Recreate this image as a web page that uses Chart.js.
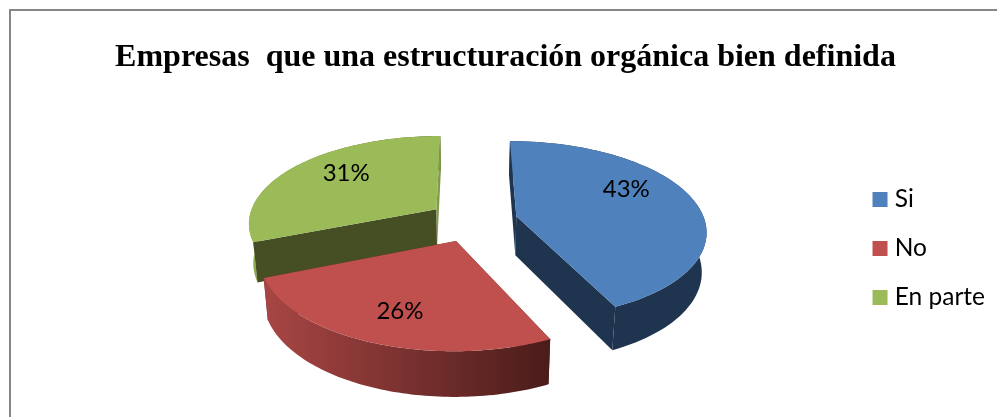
<!DOCTYPE html>
<html><head><meta charset="utf-8">
<script src="https://cdn.jsdelivr.net/npm/chart.js@4"></script>
<style>html,body{margin:0;padding:0;background:#fff;overflow:hidden}
#frame{position:absolute;left:9px;top:9px;width:1000px;height:420px;border:2px solid #868686;box-sizing:border-box;pointer-events:none}
canvas{position:absolute;left:0;top:0}</style>
</head><body>
<canvas id="c" width="997" height="417"></canvas>
<div id="frame"></div>
<script>
const titleText = 'Empresas  que una estructuración orgánica bien definida';
const categories = ['Si', 'No', 'En parte'];
const values = [43, 26, 31];
const colors = ['#4F81BD', '#C0504D', '#9BBB59'];

// 3D look of the slices
const edgeWall = [['#1F344F', '#1F344F'], ['#5a1f1e', '#5a1f1e'], ['#454F23', '#7F9A48']];
const rimWall = [['#1F344F', '#1F344F'], ['#A84644', '#4A1C1A'], ['#8FAD52', '#454F23']];
const edgeFacesViewer = [true, false, true];
const paintOrder = [2, 0, 1];
const labelPlace = [{r: .71, shift: -15}, {r: .72, shift: -1}, {r: .695, shift: 6}];

// perspective camera, fitted to the picture
const cam = {x0: 467, yh: -531, c: .2505, A: .00133, B: .0001565, u0: .0314, explode: .238, depth: .052, shrink: .98, q: .25, bow: 2.8};
function project(angle, rad, mid, z) {
  const U = cam.u0 + cam.explode * Math.cos(mid) + rad * Math.cos(angle);
  const V = cam.explode * Math.sin(mid) + rad * Math.sin(angle);
  const w = 1 / (cam.A - cam.B * V);
  const k = z ? cam.shrink : 1;
  return {
    x: cam.x0 + cam.c * U * w * k * Math.pow(w / 750, cam.q),
    y: cam.yh + w * (1 + (z ? cam.depth : 0)) + cam.bow * V * V
  };
}
function poly(ctx, pts, fill) {
  ctx.beginPath();
  pts.forEach((p, i) => i ? ctx.lineTo(p.x, p.y) : ctx.moveTo(p.x, p.y));
  ctx.closePath();
  ctx.fillStyle = fill;
  ctx.fill();
}
function rimPoints(a0, a1, mid, z) {
  const n = 80, out = [];
  for (let i = 0; i <= n; i++) out.push(project(a0 + (a1 - a0) * i / n, 1, mid, z));
  return out;
}
const pie3d = {
  id: 'pie3d',
  beforeDatasetsDraw(chart) {
    const ctx = chart.ctx, arcs = chart.getDatasetMeta(0).data;
    ctx.save();
    paintOrder.forEach(i => {
      const a = arcs[i], a0 = a.startAngle, a1 = a.endAngle, mid = (a0 + a1) / 2;
      const top = rimPoints(a0, a1, mid, false), bot = rimPoints(a0, a1, mid, true);
      const c = project(0, 0, mid, false), cb = project(0, 0, mid, true);
      const drawRim = () => {
        const xs = top.map(p => p.x);
        const g = ctx.createLinearGradient(Math.min(...xs), 0, Math.max(...xs), 0);
        g.addColorStop(0, rimWall[i][0]);
        g.addColorStop(1, rimWall[i][1]);
        poly(ctx, top.concat(bot.slice().reverse()), g);
      };
      const drawEdges = () => {
        poly(ctx, [c, top[0], bot[0], cb], edgeWall[i][0]);
        poly(ctx, [c, top[top.length - 1], bot[bot.length - 1], cb], edgeWall[i][1]);
      };
      if (edgeFacesViewer[i]) { drawRim(); drawEdges(); } else { drawEdges(); drawRim(); }
      poly(ctx, [c].concat(top), colors[i]);
    });
    // value labels
    ctx.fillStyle = '#000';
    ctx.font = '24px Lato';
    ctx.textAlign = 'center';
    ctx.textBaseline = 'middle';
    arcs.forEach((a, i) => {
      const mid = (a.startAngle + a.endAngle) / 2;
      const p = project(mid + labelPlace[i].shift * Math.PI / 180, labelPlace[i].r, mid, false);
      ctx.fillText(values[i] + '%', p.x, p.y);
    });
    ctx.restore();
    return false;
  }
};
new Chart(document.getElementById('c'), {
  type: 'pie',
  data: {labels: categories, datasets: [{data: values, backgroundColor: colors, borderWidth: 0}]},
  plugins: [pie3d],
  options: {
    responsive: false, animation: false, devicePixelRatio: 1,
    layout: {padding: {top: 39, right: 2, bottom: -41, left: 16}},
    plugins: {
      title: {display: true, text: titleText, color: '#000', padding: 0,
        font: {family: '"Liberation Serif"', weight: 'bold', size: 32}},
      legend: {position: 'right',
        labels: {color: '#000', boxWidth: 5, boxHeight: 5, padding: 24.5, font: {family: 'Lato', size: 24.5},
          generateLabels(chart) {
            return Chart.overrides.pie.plugins.legend.labels.generateLabels(chart)
              .map(it => Object.assign(it, {lineWidth: 10, strokeStyle: it.fillStyle}));
          }}},
      tooltip: {enabled: false}
    }
  }
});
</script>
</body></html>
